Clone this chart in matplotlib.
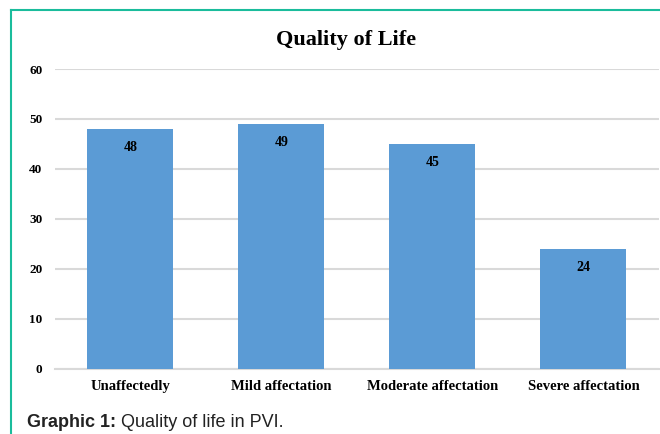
import matplotlib
matplotlib.use("Agg")
import matplotlib.pyplot as plt
from matplotlib.lines import Line2D

# Data
categories = ["Unaffectedly", "Mild affectation", "Moderate affectation", "Severe affectation"]
values = [48, 49, 45, 24]
yticks = [0, 10, 20, 30, 40, 50, 60]

bar_color = "#5B9BD5"
grid_color = "#D9D9D9"
serif = "Liberation Serif"

fig = plt.figure(figsize=(6.6, 4.34), dpi=100)
ax = fig.add_axes([0.0833, 0.150, 0.915, 0.691])

x = range(len(categories))
ax.bar(x, values, width=0.57, color=bar_color, zorder=3)

# value labels inside the top of each bar
for xi, v in zip(x, values):
    ax.annotate(str(v), (xi, v), xytext=(0, -13.5), textcoords="offset points",
                ha="center", va="center", fontsize=10, fontweight="bold",
                family=serif, zorder=4)

ax.set_xlim(-0.5, len(categories) - 0.5)
ax.set_ylim(0, 60)
ax.set_yticks(yticks)
ax.set_xticks(list(x))
ax.set_xticklabels(categories, fontsize=10.5, fontweight="bold", family=serif)
for lbl in ax.get_yticklabels():
    lbl.set_fontsize(9.5)
    lbl.set_fontweight("bold")
    lbl.set_family(serif)

ax.yaxis.grid(True, color=grid_color, linewidth=1.5, zorder=0)
ax.tick_params(axis="both", length=0)
ax.tick_params(axis="y", pad=9)
ax.tick_params(axis="x", pad=8)
for side in ["top", "right", "left"]:
    ax.spines[side].set_visible(False)
ax.spines["bottom"].set_color(grid_color)
ax.spines["bottom"].set_linewidth(1.5)

fig.text(0.524, 0.908, "Quality of Life", ha="center", va="center",
         fontsize=16, fontweight="bold", family=serif)

# caption: bold lead followed by regular text
cap_y = 0.027
lead = fig.text(0.041, cap_y, "Graphic 1:", ha="left", va="center",
                fontsize=13, fontweight="bold", family="Liberation Sans", color="#222222")
fig.canvas.draw()
bb = lead.get_window_extent(renderer=fig.canvas.get_renderer())
fig.text((bb.x1 + 5) / fig.bbox.width, cap_y, "Quality of life in PVI.", ha="left",
         va="center", fontsize=13, family="Liberation Sans", color="#222222")

# teal frame on top and left
frame = "#1ABC9C"
fig.add_artist(Line2D([0.0167, 0.0167], [0, 0.977], color=frame, linewidth=1.5,
                      transform=fig.transFigure))
fig.add_artist(Line2D([0.0167, 1.0], [0.977, 0.977], color=frame, linewidth=1.5,
                      transform=fig.transFigure))

fig.savefig("out.png", dpi=100)
